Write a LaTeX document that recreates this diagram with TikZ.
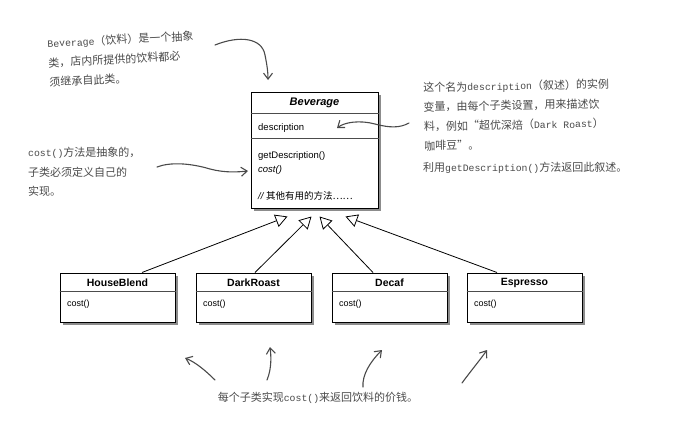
\documentclass[tikz,border=0pt]{standalone}
\usepackage{fontspec}
\setmainfont{Liberation Sans}
\newfontfamily\cjk{Noto Sans CJK SC}
\newfontfamily\monofam{Liberation Mono}
\usetikzlibrary{arrows.meta,shadows,calc}
\newcommand{\lat}[1]{{\monofam\fontsize{9.8}{19}\selectfont #1}}
\definecolor{annogray}{HTML}{4A4A4A}
\begin{document}
\begin{tikzpicture}[x=1pt,y=-1pt,
  umlbox/.style={draw=black, line width=1pt, fill=white, inner sep=0pt,
    drop shadow={shadow xshift=3pt, shadow yshift=-3pt, fill=black, opacity=0.45}},
  sep/.style={line width=0.8pt, draw=black!70},
  boxtitle/.style={font=\fontsize{10.5}{12}\selectfont\bfseries, inner sep=0pt},
  boxitem/.style={font=\fontsize{9.5}{12}\selectfont, inner sep=0pt, anchor=west},
  anno/.style={font=\cjk\fontsize{11}{19.5}\selectfont, text=annogray, align=left, inner sep=0pt},
  hand/.style={draw=annogray, line width=1.1pt, line cap=round, -{Straight Barb[length=6pt,width=9pt]}},
  inh/.style={draw=black, line width=0.8pt, -{Triangle[open, length=12pt, width=13pt, fill=white]}}
]
\useasboundingbox[fill=white] (0,0) rectangle (690,431);

% Beverage class
\node[umlbox, minimum width=127pt, minimum height=116pt] (bev) at (314.5,150) {};
\draw[sep] ($(bev.north west)+(0,22)$) -- ($(bev.north east)+(0,22)$);
\draw[sep] ($(bev.north west)+(0,47)$) -- ($(bev.north east)+(0,47)$);
\node[boxtitle, font=\fontsize{11}{13}\selectfont\bfseries\itshape] (bevt) at (314.5,103) {Beverage};
\node[boxitem] (bevd) at (258,128) {description};
\node[boxitem] (bevg) at (258,156) {getDescription()};
\node[boxitem, font=\fontsize{9.5}{12}\selectfont\itshape] (bevc) at (258,170) {cost()};
\node[boxitem] (bevo) at (258,196) {\itshape //\ {\cjk\upshape\fontsize{9.5}{12}\selectfont 其他有用的方法……}};

% Subclasses
\foreach \nm/\lbl/\xl in {hb/HouseBlend/60, dr/DarkRoast/196, dc/Decaf/332, es/Espresso/467}{
  \node[umlbox, minimum width=115pt, minimum height=49pt] (\nm) at (\xl+57.5,297.5) {};
  \draw[sep] ($(\nm.north west)+(0,19)$) -- ($(\nm.north east)+(0,19)$);
  \node[boxtitle] (\nm t) at (\xl+57.5,283) {\lbl};
  \node[boxitem, font=\fontsize{9}{11}\selectfont] (\nm c) at (\xl+7,304) {cost()};
}

% Inheritance arrows
\draw[inh] ($(hb.north)+(24.5,0)$) -- ($(bev.south)+(-27,8)$);
\draw[inh] ($(dr.north)+(1.5,0)$) -- ($(bev.south)+(-3,8)$);
\draw[inh] ($(dc.north)+(-16.5,0)$) -- ($(bev.south)+(5,8)$);
\draw[inh] ($(es.north)+(-27.5,0)$) -- ($(bev.south)+(31,8)$);

% Annotations
\node[anno, anchor=north west, rotate=3] (a1) at (47,38)
  {\lat{Beverage}（饮料）是一个抽象\\类，店内所提供的饮料都必\\须继承自此类。};
\node[anno, anchor=north west, rotate=1] (a2) at (423,82)
  {这个名为\lat{description}（叙述）的实例\\变量，由每个子类设置，用来描述饮\\料，例如“超优深焙（\lat{Dark Roast}）\\咖啡豆”。};
\node[anno, anchor=west] (a3) at (423,168) {利用\lat{getDescription()}方法返回此叙述。};
\node[anno, anchor=north west] (a4) at (28,147)
  {\lat{cost()}方法是抽象的，\\子类必须定义自己的\\实现。};
\node[anno] (a5) at (318,398) {每个子类实现\lat{cost()}来返回饮料的价钱。};

% Hand-drawn arrows
\coordinate (h1s) at (215,45);
\coordinate (h1e) at (268,80);
\draw[hand] (h1s) .. controls (240,35) and (262,38) .. (265,55) .. controls (267,65) and (268,72) .. (h1e);
\coordinate (h2s) at (409,123);
\coordinate (h2e) at (337,128);
\draw[hand] (h2s) .. controls (400,128) and (390,128) .. (375,124) .. controls (360,120) and (345,122) .. (h2e);
\coordinate (h3s) at (157,167);
\coordinate (h3e) at (248,171);
\draw[hand] (h3s) .. controls (170,162) and (190,163) .. (210,169) .. controls (225,173) and (238,172) .. (h3e);
\coordinate (b1s) at (215,380); \coordinate (b1e) at (185,358);
\coordinate (b2s) at (267,380); \coordinate (b2e) at (270,347);
\coordinate (b3s) at (363,387); \coordinate (b3e) at (382,350);
\coordinate (b4s) at (462,383); \coordinate (b4e) at (487,350);
\draw[hand] (b1s) .. controls (205,370) and (195,362) .. (b1e);
\draw[hand] (b2s) .. controls (272,368) and (271,355) .. (b2e);
\draw[hand] (b3s) .. controls (362,375) and (370,362) .. (b3e);
\draw[hand] (b4s) .. controls (470,372) and (480,360) .. (b4e);
\end{tikzpicture}
\end{document}
